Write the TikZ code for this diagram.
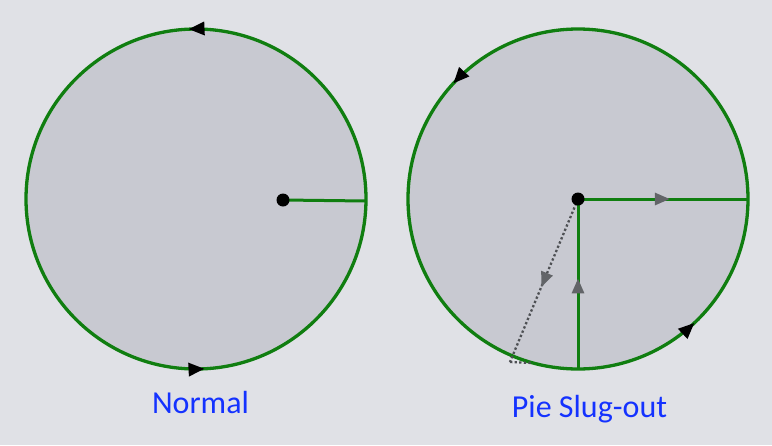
\documentclass[tikz,border=0pt]{standalone}
\usepackage{fontspec}
\setmainfont{Carlito}
\usetikzlibrary{arrows.meta,decorations.markings,positioning,calc}
\definecolor{bgcol}{RGB}{224,225,230}
\definecolor{diskcol}{RGB}{200,201,209}
\definecolor{pathgreen}{RGB}{16,126,16}
\definecolor{tipgray}{RGB}{98,100,104}
\definecolor{dotgray}{RGB}{78,80,84}
\definecolor{labelblue}{RGB}{20,50,255}

\begin{document}
\begin{tikzpicture}[
    x=1pt, y=-1pt,
    disk/.style={fill=diskcol, draw=pathgreen, line width=3.3pt},
    seg/.style={draw=pathgreen, line width=3pt},
    lead/.style={draw=dotgray, line width=2.3pt, dash pattern=on 2.3pt off 2.3pt},
    hub/.style={circle, fill=black, inner sep=0pt, minimum size=13pt},
    caption/.style={anchor=base, text=labelblue, font=\fontsize{32}{38}\selectfont},
    arrowat/.style={postaction={decorate, decoration={markings,
        mark=at position #1 with {\arrow{Triangle[length=16pt,width=13pt,black]}}}}},
    grayat/.style={postaction={solid, decorate, decoration={markings,
        mark=at position #1 with {\arrow{Triangle[length=15pt,width=12pt,tipgray]}}}}}
]
    % Background and picture margins
    \fill[bgcol] (0,0) rectangle (772,445);

    % Normal disk
    \coordinate (nc) at (196,199);
    \draw[disk, arrowat=0.257, arrowat=0.758] (nc) ++(0:170) arc (360:0:170);
    \coordinate (nhub) at (283,200);
    \coordinate (nrim) at (366,201);
    \draw[seg] (nhub) -- (nrim);
    \node[hub] (nhubdot) at (nhub) {};

    % Pie slug-out disk
    \coordinate (pc) at (578,199);
    \draw[disk, arrowat=0.381, arrowat=0.870] (pc) ++(0:170) arc (360:0:170);
    \coordinate (prim) at (748,199);
    \coordinate (pbot) at (578,368);
    \coordinate (pout) at (510,362);
    \coordinate (pin) at (533,363);
    \draw[lead, grayat=0.54] (pc) -- (pout);
    \draw[lead] (pout) -- (pin);
    \draw[seg, grayat=0.53] (pbot) -- (pc);
    \draw[seg, grayat=0.54] (pc) -- (prim);
    \node[hub] (phubdot) at (pc) {};

    % Captions
    \node[caption] (normal) at (200.5,413) {Normal};
    \node[caption] (pieslug) at (589.5,417) {Pie Slug-out};
\end{tikzpicture}
\end{document}
